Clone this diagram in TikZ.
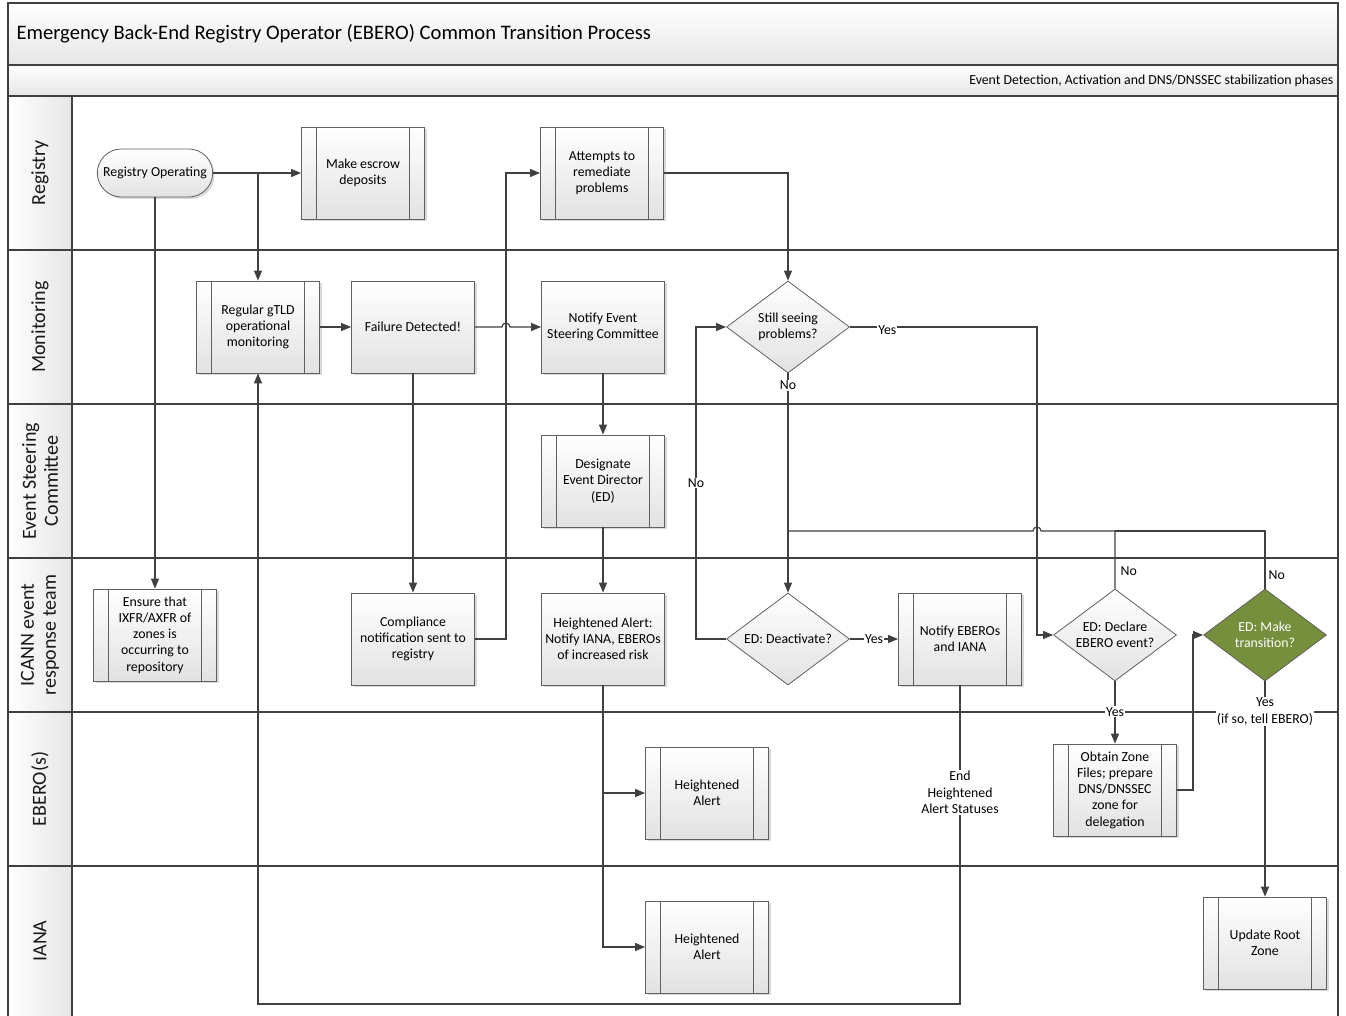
\documentclass[tikz,border=0pt]{standalone}
\usepackage{fontspec}
\setmainfont{Carlito}
\usepackage{tikz}
\usetikzlibrary{shapes.geometric, shapes.misc, arrows.meta, positioning, calc, shadows}
\definecolor{myline}{RGB}{64,64,64}
\definecolor{myedge}{RGB}{96,96,96}
\definecolor{myfill}{RGB}{226,226,226}
\definecolor{myhdr}{RGB}{230,230,230}
\definecolor{myolive}{RGB}{118,143,60}
\newcommand{\flowfont}{\fontsize{13.8}{16.25}\selectfont}
\newcommand{\lanefont}{\fontsize{20}{22}\selectfont}
\tikzset{
  procbox/.style={rectangle, draw=myedge, top color=white, bottom color=myfill,
    minimum width=123pt, minimum height=92pt, align=center,
    font=\flowfont, line width=0.8pt,
    drop shadow={shadow xshift=2pt, shadow yshift=-2pt, fill=black!15, opacity=1}},
  subbox/.style={procbox, path picture={
      \draw[myedge, line width=0.8pt] ([xshift=15pt]path picture bounding box.north west) -- ([xshift=15pt]path picture bounding box.south west);
      \draw[myedge, line width=0.8pt] ([xshift=-15pt]path picture bounding box.north east) -- ([xshift=-15pt]path picture bounding box.south east);}},
  termbox/.style={rounded rectangle, draw=myedge, top color=white, bottom color=myfill,
    minimum width=122pt, minimum height=48pt, font=\flowfont, line width=0.8pt,
    drop shadow={shadow xshift=2pt, shadow yshift=-2pt, fill=black!15, opacity=1}},
  decbase/.style={diamond, draw=myedge, minimum width=123pt, minimum height=92pt,
    inner sep=0pt, aspect=1.34, align=center, font=\flowfont, line width=0.8pt},
  decision/.style={decbase, top color=white, bottom color=myfill},
  gonode/.style={decbase, fill=myolive, text=white},
  lanelabel/.style={rotate=90, align=center, font=\lanefont, text=black!90},
  laneline/.style={line width=1.2pt, draw=myline},
  flow/.style={-{Triangle[length=10pt, width=8pt]}, line width=1.2pt, draw=myline},
  conn/.style={line width=1.2pt, draw=myline},
  lbl/.style={font=\flowfont, fill=white, inner sep=1pt, align=center}
}

\begin{document}
\begin{tikzpicture}[x=1pt, y=-1pt]
  \useasboundingbox (0,0) rectangle (1346,1016);
  % pool and lanes
  \shade[top color=white, bottom color=myhdr] (8,3) rectangle (1338,65);
  \shade[top color=white, bottom color=myhdr] (8,65) rectangle (1338,96);
  \node[anchor=west, font={\fontsize{20.6}{24}\selectfont}] (title) at (13,34) {Emergency Back-End Registry Operator (EBERO) Common Transition Process};
  \node[anchor=east, font={\fontsize{13.8}{16}\selectfont}] (phase) at (1337,81) {Event Detection, Activation and DNS/DNSSEC stabilization phases};
  \foreach \ya/\yb/\lname in {96/250/Registry, 250/404/Monitoring, 404/558/{Event Steering\\Committee},
      558/712/{ICANN event\\response team}, 712/866/{EBERO(s)}, 866/1016/IANA} {
    \shade[left color=white, right color=myhdr] (8,\ya) rectangle (72,\yb);
    \node[lanelabel] (lane\ya) at (40,{(\ya+\yb)/2}) {\lname};
  }
  \foreach \y in {65,96,250,404,558,712,866}
    \draw[laneline] (8,\y) -- (1338,\y);
  \draw[laneline] (72,96) -- (72,1016);
  \draw[laneline] (8,1016) -- (8,3) -- (1338,3) -- (1338,1016);

  % steps
  \node[termbox] (regop) at (155,173) {Registry Operating};
  \node[subbox] (escrow) at (363,173) {Make escrow\\deposits};
  \node[subbox] (attempts) at (602,173) {Attempts to\\remediate\\problems};
  \node[subbox] (monitor) at (258,327) {Regular gTLD\\operational\\monitoring};
  \node[procbox] (failure) at (413,327) {Failure Detected!};
  \node[procbox] (notifyesc) at (603,327) {Notify Event\\Steering Committee};
  \node[decision] (still) at (788,327) {Still seeing\\problems?};
  \node[subbox] (designate) at (603,481) {Designate\\Event Director\\(ED)};
  \node[subbox] (ensure) at (155,635) {Ensure that\\IXFR/AXFR of\\zones is\\occurring to\\repository};
  \node[procbox] (compliance) at (413,639) {Compliance\\notification sent to\\registry};
  \node[procbox] (hialert) at (603,639) {Heightened Alert:\\Notify IANA, EBEROs\\of increased risk};
  \node[decision] (deact) at (788,639) {ED: Deactivate?};
  \node[subbox] (notifyeb) at (960,639) {Notify EBEROs\\and IANA};
  \node[decision] (declare) at (1115,635) {ED: Declare\\EBERO event?};
  \node[gonode] (trans) at (1265,635) {ED: Make\\transition?};
  \node[subbox] (alerteb) at (707,793) {Heightened\\Alert};
  \node[subbox] (alertiana) at (707,947) {Heightened\\Alert};
  \node[subbox] (obtain) at (1115,790) {Obtain Zone\\Files; prepare\\DNS/DNSSEC\\zone for\\delegation};
  \node[subbox] (update) at (1265,943) {Update Root\\Zone};

  % routing points
  \coordinate (cx) at (506,0);
  \coordinate (cy) at (1037,0);
  \coordinate (nx) at (696,0);
  \coordinate (ny) at (0,531);
  \coordinate (by) at (0,1004);

  % connectors
  \draw[flow] (regop.east) -- (escrow.west);
  \draw[flow] (regop.east -| monitor.north) -- (monitor.north);
  \draw[flow] (regop.south) -- (ensure.north);
  \draw[flow] (monitor) -- (failure);
  \draw[flow] (failure.east) -- ($(failure.east -| cx)+(-4,0)$) arc[start angle=180, end angle=0, radius=4pt] -- (notifyesc.west);
  \draw[flow] (failure) -- (compliance);
  \draw[flow] (compliance.east) -- (compliance.east -| cx) |- (attempts.west);
  \draw[flow] (attempts.east) -| (still.north);
  \draw[flow] (notifyesc) -- (designate);
  \draw[flow] (designate) -- (hialert);
  \draw[flow] (hialert.south) |- (alerteb.west);
  \draw[flow] (hialert.south) |- (alertiana.west);
  \draw[flow] (still.east) -- node[lbl, pos=0.2, yshift=-3pt] {Yes} (still.east -| cy) -- (declare.west -| cy) -- (declare.west);
  \draw[flow] (still.south) -- node[lbl, pos=0.055] {No} (deact.north);
  \draw[flow] (deact.west) -- (deact.west -| nx) -- node[lbl] {No} (still.west -| nx) -- (still.west);
  \draw[flow] (deact.east) -- node[lbl] {Yes} (notifyeb.west);
  \draw[flow] (notifyeb.south) -- node[lbl, pos=0.336] {End\\Heightened\\Alert Statuses} (notifyeb.south |- by) -| (monitor.south);
  \draw[conn] (declare.north) -- node[lbl, pos=0.3, right, xshift=4pt, fill=none] {No} (declare.north |- ny) -- ($(cy |- ny)+(4,0)$) arc[start angle=0, end angle=180, radius=4pt] -- (still.south |- ny);
  \draw[conn] (trans.north) -- node[lbl, pos=0.24, right, xshift=2pt, fill=none] {No} (trans.north |- ny) -- (declare.north |- ny);
  \draw[flow] (declare.south) -- node[lbl, pos=0.49] {Yes} (obtain.north);
  \draw[flow] (obtain.east) -- ++(16,0) |- (trans.west);
  \draw[flow] (trans.south) -- node[lbl, pos=0.14] {Yes\\(if so, tell EBERO)} (update.north);
\end{tikzpicture}
\end{document}
